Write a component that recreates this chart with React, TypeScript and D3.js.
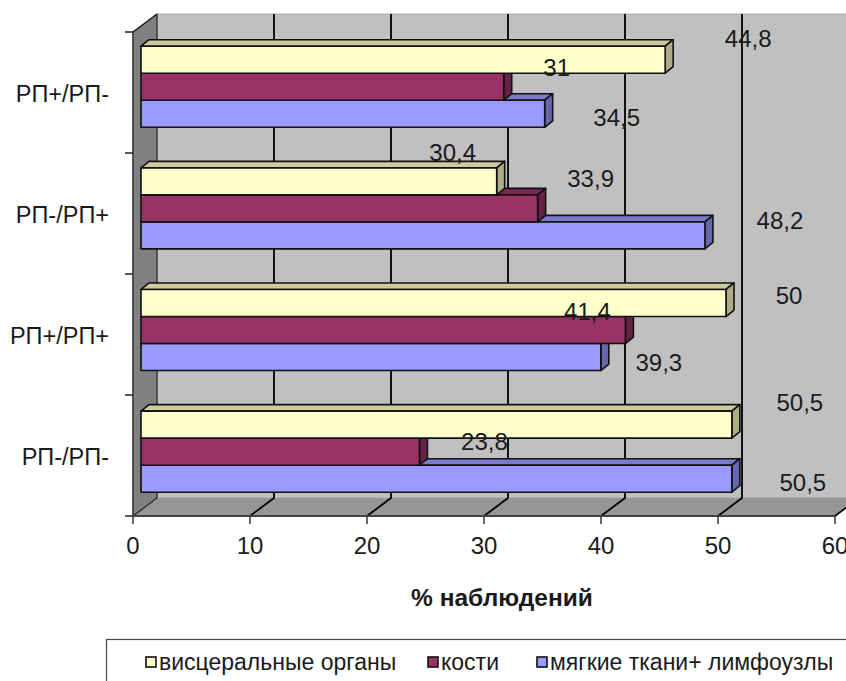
import React from "react";
import * as d3 from "d3";

const categories = ["РП+/РП-", "РП-/РП+", "РП+/РП+", "РП-/РП-"];
const seriesNames = ["висцеральные органы", "кости", "мягкие ткани+ лимфоузлы"];
const visceral = [44.8, 30.4, 50, 50.5];
const bones = [31, 33.9, 41.4, 23.8];
const softTissue = [34.5, 48.2, 39.3, 50.5];
const xTicks = [0, 10, 20, 30, 40, 50, 60];

// Excel-style face shades for each series: front, top, side.
const faces = [
  { front: "#FFFFCC", top: "#CCCC9E", side: "#ADAD85" },
  { front: "#993366", top: "#7A2952", side: "#662244" },
  { front: "#9999FF", top: "#7A7ACC", side: "#6767AD" },
];

// Manual placement of each data label relative to its bar end, [series][category].
const labelShift = [
  [{ dx: 83, dy: -21 }, { dx: -44, dy: -29 }, { dx: 63, dy: -7 }, { dx: 68, dy: -22 }],
  [{ dx: 53, dy: -19 }, { dx: 53, dy: -30 }, { dx: -38, dy: -19 }, { dx: 65, dy: -10 }],
  [{ dx: 72, dy: 4 }, { dx: 75, dy: -15 }, { dx: 58, dy: 5 }, { dx: 71, dy: 4 }],
];

const W = 846;
const H = 681;
const FONT = "'Liberation Sans', Arial, sans-serif";
const DEPTH_X = 24;
const DEPTH_Y = 18;
const BAR_DX = 8;
const BAR_DY = 6.5;

export default function App() {
  const x = d3.scaleLinear().domain([0, 60]).range([133, 835]);
  const y = d3.scaleBand<string>().domain(categories).range([32, 516]);
  // The bar plane sits slightly deeper, so its groups have their own band scale.
  const barY = d3.scaleBand<string>().domain(categories).range([32.4, 519]);
  const inner = d3
    .scaleBand<number>()
    .domain([0, 1, 2])
    .range([0, barY.bandwidth()])
    .paddingOuter(0.75)
    .paddingInner(0);
  const series = [visceral, bones, softTissue];
  const yTickValues = d3.range(categories.length + 1).map((i) => 32 + i * y.step());
  const top = y.range()[0];
  const bottom = y.range()[1];
  const x0 = x(0);
  const xEnd = x(60);
  const poly = (pts: number[][]) => pts.map((p) => p.join(",")).join(" ");

  return (
    <svg
      width={W}
      height={H}
      viewBox={`0 0 ${W} ${H}`}
      style={{ position: "absolute", left: 0, top: 0, background: "#fff" }}
      fontFamily={FONT}
    >
      {/* back wall, side wall and floor */}
      <polygon
        points={poly([
          [x0 + DEPTH_X, top - DEPTH_Y],
          [xEnd + DEPTH_X, top - DEPTH_Y],
          [xEnd + DEPTH_X, bottom - DEPTH_Y],
          [x0 + DEPTH_X, bottom - DEPTH_Y],
        ])}
        fill="#C0C0C0"
        stroke="#A8A8A8"
        strokeWidth={1}
      />
      <polygon
        points={poly([
          [x0, top],
          [x0 + DEPTH_X, top - DEPTH_Y],
          [x0 + DEPTH_X, bottom - DEPTH_Y],
          [x0, bottom],
        ])}
        fill="#808080"
      />
      <polygon
        points={poly([
          [x0, bottom],
          [x0 + DEPTH_X, bottom - DEPTH_Y],
          [xEnd + DEPTH_X, bottom - DEPTH_Y],
          [xEnd, bottom],
        ])}
        fill="#969696"
      />

      {/* grid lines running over the wall and floor */}
      {xTicks.map((t) => (
        <polyline
          key={t}
          points={poly([
            [x(t), bottom],
            [x(t) + DEPTH_X, bottom - DEPTH_Y],
            [x(t) + DEPTH_X, top - DEPTH_Y],
          ])}
          fill="none"
          stroke={t === 0 ? "#222" : "#000"}
          strokeWidth={t === 0 ? 1.2 : 1.8}
        />
      ))}
      <polyline
        points={poly([
          [x0, top],
          [x0, bottom],
          [xEnd, bottom],
        ])}
        fill="none"
        stroke="#444"
        strokeWidth={1.8}
      />
      <line x1={x0} y1={top} x2={x0 + DEPTH_X} y2={top - DEPTH_Y} stroke="#111" strokeWidth={1.4} />

      {/* axis ticks */}
      {yTickValues.map((v) => (
        <line key={v} x1={x0 - 8} x2={x0} y1={v} y2={v} stroke="#222" strokeWidth={1.5} />
      ))}
      {xTicks.map((t) => (
        <line key={t} x1={x(t)} x2={x(t)} y1={bottom} y2={bottom + 8} stroke="#333" strokeWidth={1.5} />
      ))}

      {/* bars, painted from the lowest series up so the depth faces overlap correctly */}
      {categories.map((c, ci) => (
        <g key={c}>
          {[2, 1, 0].map((si) => {
            const left = x0 + BAR_DX;
            const w = x(series[si][ci]) - x0;
            const right = left + w;
            const by = (barY(c) as number) + (inner(si) as number) - BAR_DY;
            const h = inner.bandwidth();
            return (
              <g key={si} stroke="#111" strokeWidth={1.6} strokeLinejoin="round">
                <polygon
                  points={poly([
                    [left, by],
                    [left + BAR_DX, by - BAR_DY],
                    [right + BAR_DX, by - BAR_DY],
                    [right, by],
                  ])}
                  fill={faces[si].top}
                />
                <polygon
                  points={poly([
                    [right, by],
                    [right + BAR_DX, by - BAR_DY],
                    [right + BAR_DX, by + h - BAR_DY],
                    [right, by + h],
                  ])}
                  fill={faces[si].side}
                />
                <rect x={left} y={by} width={w} height={h} fill={faces[si].front} />
              </g>
            );
          })}
        </g>
      ))}

      {/* value labels */}
      {categories.map((c, ci) =>
        series.map((vals, si) => {
          const by = (barY(c) as number) + (inner(si) as number) - BAR_DY + inner.bandwidth() / 2;
          const shift = labelShift[si][ci];
          return (
            <text
              key={`${c}-${si}`}
              x={x(vals[ci]) + BAR_DX + shift.dx}
              y={by + shift.dy}
              textAnchor="middle"
              dominantBaseline="central"
              fontSize={24}
              fill="#1a1a1a"
            >
              {String(vals[ci]).replace(".", ",")}
            </text>
          );
        })
      )}

      {/* axis labels */}
      {categories.map((c) => (
        <text
          key={c}
          x={109}
          y={(y(c) as number) + y.bandwidth() / 2 + 1}
          textAnchor="end"
          dominantBaseline="central"
          fontSize={23.5}
          fill="#1a1a1a"
        >
          {c}
        </text>
      ))}
      {xTicks.map((t) => (
        <text key={t} x={x(t)} y={545} textAnchor="middle" dominantBaseline="central" fontSize={24} fill="#1a1a1a">
          {t}
        </text>
      ))}
      <text x={502} y={597} textAnchor="middle" dominantBaseline="central" fontSize={24.5} fontWeight="bold" fill="#1a1a1a">
        % наблюдений
      </text>

      {/* legend */}
      <rect x={106.5} y={639.5} width={760} height={60} fill="#fff" stroke="#444" strokeWidth={1.2} />
      {seriesNames.map((name, i) => {
        const sx = [146, 428, 537][i];
        return (
          <g key={name}>
            <rect x={sx} y={657} width={10} height={10} fill={faces[i].front} stroke="#111" strokeWidth={1.6} />
            <text x={sx + 13} y={662} dominantBaseline="central" fontSize={23} fill="#1a1a1a">
              {name}
            </text>
          </g>
        );
      })}
    </svg>
  );
}
